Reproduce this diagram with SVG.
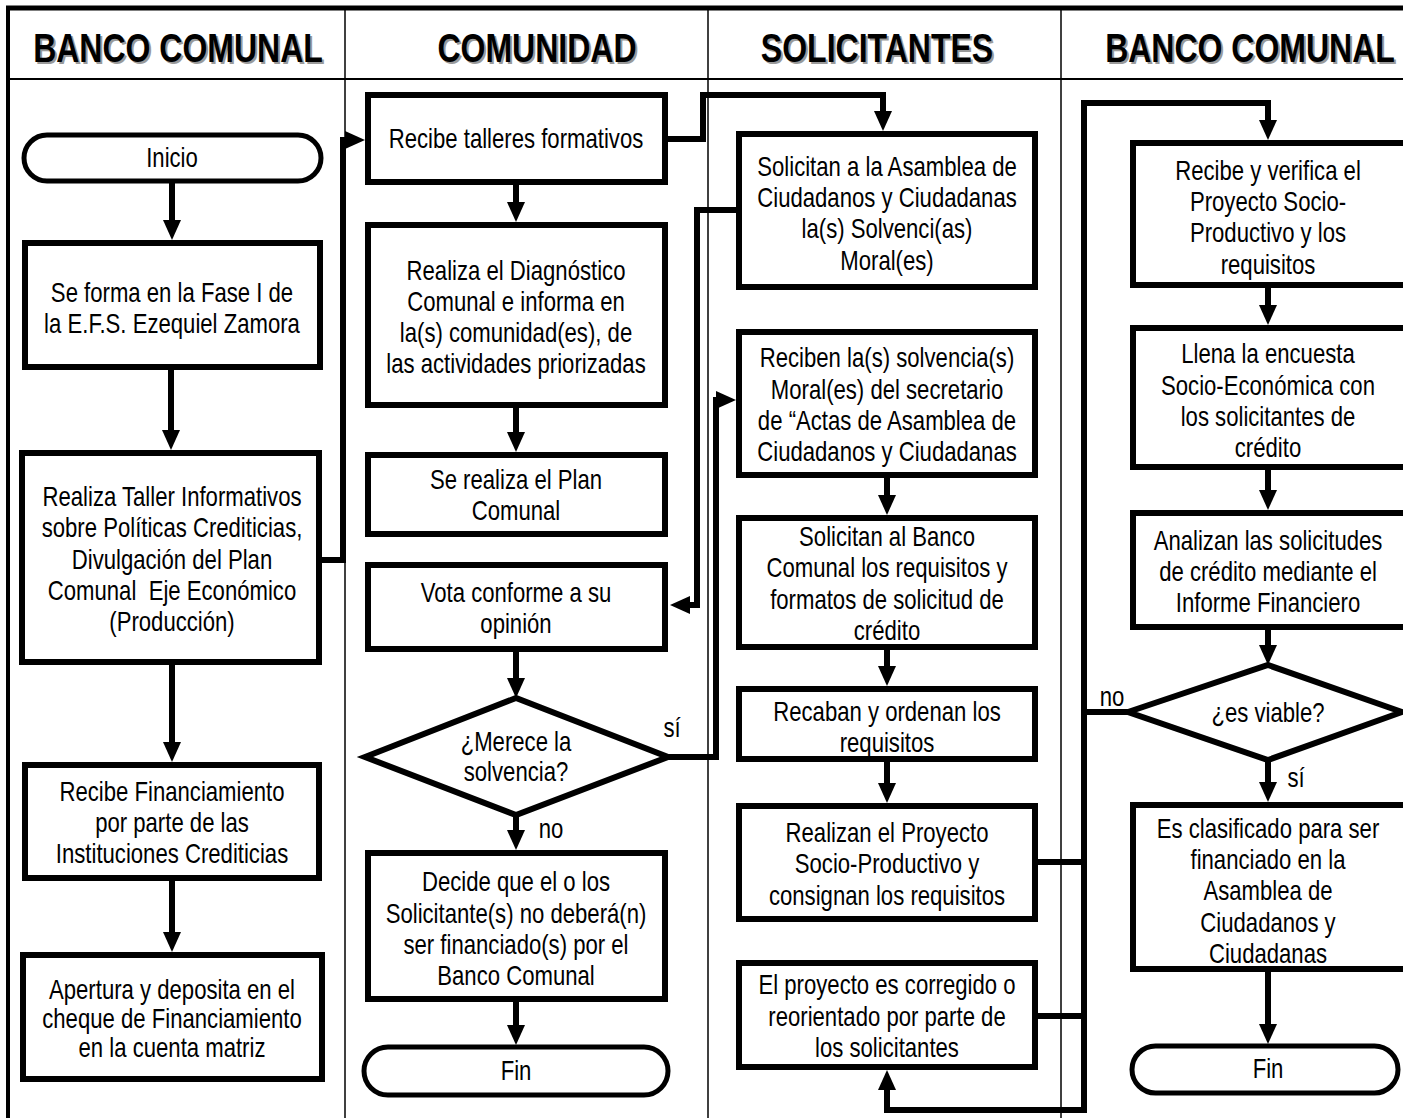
<svg xmlns="http://www.w3.org/2000/svg" width="1403" height="1118" viewBox="0 0 1403 1118">
<style>
.frame{stroke:#000;fill:none}
.box{fill:#fff;stroke:#000;stroke-width:6}
.term{fill:#fff;stroke:#000;stroke-width:5}
.t{font-family:"Liberation Sans",Arial,sans-serif;font-size:27px;text-anchor:middle;fill:#000}
.h{font-family:"Liberation Sans",Arial,sans-serif;font-size:40px;font-weight:bold;text-anchor:middle}
.hs{fill:#9a9a9a}
.hm{fill:#000}
.c{fill:none;stroke:#000;stroke-width:6;stroke-linejoin:miter}
.a{marker-end:url(#ah)}
</style>
<defs>
<marker id="ah" markerUnits="userSpaceOnUse" markerWidth="20" markerHeight="18" refX="6" refY="9" orient="auto"><path d="M0,0 L20,9 L0,18 z" fill="#000"/></marker>
</defs>
<rect width="1403" height="1118" fill="#fff"/>
<g id="lanes">
<line class="frame" x1="6" y1="8" x2="1403" y2="8" stroke-width="5"/>
<line class="frame" x1="8" y1="79" x2="1403" y2="79" stroke-width="2"/>
<line class="frame" x1="8" y1="6" x2="8" y2="1118" stroke-width="4"/>
<line class="frame" x1="345" y1="8" x2="345" y2="1118" stroke-width="1.5"/>
<line class="frame" x1="708" y1="8" x2="708" y2="1118" stroke-width="1.5"/>
<line class="frame" x1="1061" y1="8" x2="1061" y2="1118" stroke-width="1.5"/>
<g class="h hs">
<text transform="matrix(0.8 0 0 1 180 64)" x="0" y="0">BANCO COMUNAL</text>
<text transform="matrix(0.8 0 0 1 539 64)" x="0" y="0">COMUNIDAD</text>
<text transform="matrix(0.8 0 0 1 879 64)" x="0" y="0">SOLICITANTES</text>
<text transform="matrix(0.8 0 0 1 1252 64)" x="0" y="0">BANCO COMUNAL</text>
</g>
<g class="h hm">
<text transform="matrix(0.8 0 0 1 178 62)" x="0" y="0">BANCO COMUNAL</text>
<text transform="matrix(0.8 0 0 1 537 62)" x="0" y="0">COMUNIDAD</text>
<text transform="matrix(0.8 0 0 1 877 62)" x="0" y="0">SOLICITANTES</text>
<text transform="matrix(0.8 0 0 1 1250 62)" x="0" y="0">BANCO COMUNAL</text>
</g>
</g>
<g id="connectors">
<path class="c a" d="M172,183 V226"/>
<path class="c a" d="M171,370 V436"/>
<path class="c a" d="M172,665 V748"/>
<path class="c a" d="M172,881 V938"/>
<path class="c a" d="M322,560 H343 V140 H351"/>
<path class="c a" d="M516,185 V208"/>
<path class="c a" d="M516,408 V438"/>
<path class="c a" d="M516,652 V684"/>
<path class="c a" d="M516,815 V836"/>
<path class="c a" d="M516,1002 V1031"/>
<path class="c a" d="M668,139 H703 V95 H883 V117"/>
<path class="c a" d="M736,210 H697 V605 H684"/>
<path class="c a" d="M668,757 H716 V400 H722"/>
<path class="c a" d="M887,478 V501"/>
<path class="c a" d="M887,650 V672"/>
<path class="c a" d="M887,762 V789"/>
<path class="c a" d="M1038,862 H1084 V103 H1268 V126"/>
<path class="c" d="M1038,1016 H1084"/>
<path class="c a" d="M1128,712 H1084 V1110 H887 V1084"/>
<path class="c a" d="M1268,288 V311"/>
<path class="c a" d="M1268,470 V496"/>
<path class="c a" d="M1268,630 V651"/>
<path class="c a" d="M1268,760 V788"/>
<path class="c a" d="M1268,972 V1030"/>
<text class="t" transform="matrix(0.82 0 0 1 672 737)" x="0" y="0">sí</text>
<text class="t" transform="matrix(0.82 0 0 1 551 838)" x="0" y="0">no</text>
<text class="t" transform="matrix(0.82 0 0 1 1112 706)" x="0" y="0">no</text>
<text class="t" transform="matrix(0.82 0 0 1 1296 787)" x="0" y="0">sí</text>
</g>
<g id="n-inicio"><rect class="term" x="24" y="135" width="297" height="46" rx="23"/><text class="t" transform="matrix(0.82 0 0 1 172 0)" x="0" y="167">Inicio</text></g>
<g id="n-seforma"><rect class="box" x="25" y="243" width="295" height="124"/><text class="t" transform="matrix(0.82 0 0 1 172 0)"><tspan x="0" y="302">Se forma en la Fase I de</tspan><tspan x="0" y="333">la E.F.S. Ezequiel Zamora</tspan></text></g>
<g id="n-taller"><rect class="box" x="22" y="453" width="297" height="209"/><text class="t" xml:space="preserve" transform="matrix(0.82 0 0 1 172 0)"><tspan x="0" y="506">Realiza Taller Informativos</tspan><tspan x="0" y="537">sobre Políticas Crediticias,</tspan><tspan x="0" y="569">Divulgación del Plan</tspan><tspan x="0" y="600">Comunal  Eje Económico</tspan><tspan x="0" y="631">(Producción)</tspan></text></g>
<g id="n-financ"><rect class="box" x="25" y="765" width="294" height="113"/><text class="t" transform="matrix(0.82 0 0 1 172 0)"><tspan x="0" y="801">Recibe Financiamiento</tspan><tspan x="0" y="832">por parte de las</tspan><tspan x="0" y="863">Instituciones Crediticias</tspan></text></g>
<g id="n-apertura"><rect class="box" x="23" y="955" width="299" height="124"/><text class="t" transform="matrix(0.82 0 0 1 172 0)"><tspan x="0" y="999">Apertura y deposita en el</tspan><tspan x="0" y="1028">cheque de Financiamiento</tspan><tspan x="0" y="1057">en la cuenta matriz</tspan></text></g>
<g id="n-talleres"><rect class="box" x="368" y="95" width="297" height="87"/><text class="t" transform="matrix(0.82 0 0 1 516 0)" x="0" y="148">Recibe talleres formativos</text></g>
<g id="n-diag"><rect class="box" x="368" y="225" width="297" height="180"/><text class="t" transform="matrix(0.82 0 0 1 516 0)"><tspan x="0" y="280">Realiza el Diagnóstico</tspan><tspan x="0" y="311">Comunal e informa en</tspan><tspan x="0" y="342">la(s) comunidad(es), de</tspan><tspan x="0" y="373">las actividades priorizadas</tspan></text></g>
<g id="n-plan"><rect class="box" x="368" y="455" width="297" height="79"/><text class="t" transform="matrix(0.82 0 0 1 516 0)"><tspan x="0" y="489">Se realiza el Plan</tspan><tspan x="0" y="520">Comunal</tspan></text></g>
<g id="n-vota"><rect class="box" x="368" y="565" width="297" height="84"/><text class="t" transform="matrix(0.82 0 0 1 516 0)"><tspan x="0" y="602">Vota conforme a su</tspan><tspan x="0" y="633">opinión</tspan></text></g>
<g id="n-merece"><polygon class="box" points="365,757 516,698 668,757 516,815"/><text class="t" transform="matrix(0.82 0 0 1 516 0)"><tspan x="0" y="751">¿Merece la</tspan><tspan x="0" y="781">solvencia?</tspan></text></g>
<g id="n-decide"><rect class="box" x="368" y="853" width="297" height="146"/><text class="t" transform="matrix(0.82 0 0 1 516 0)"><tspan x="0" y="891">Decide que el o los</tspan><tspan x="0" y="923">Solicitante(s) no deberá(n)</tspan><tspan x="0" y="954">ser financiado(s) por el</tspan><tspan x="0" y="985">Banco Comunal</tspan></text></g>
<g id="n-fin1"><rect class="term" x="364" y="1047" width="304" height="48" rx="24"/><text class="t" transform="matrix(0.82 0 0 1 516 0)" x="0" y="1080">Fin</text></g>
<g id="n-solicitan"><rect class="box" x="739" y="134" width="296" height="153"/><text class="t" transform="matrix(0.82 0 0 1 887 0)"><tspan x="0" y="176">Solicitan a la Asamblea de</tspan><tspan x="0" y="207">Ciudadanos y Ciudadanas</tspan><tspan x="0" y="238">la(s) Solvenci(as)</tspan><tspan x="0" y="270">Moral(es)</tspan></text></g>
<g id="n-reciben"><rect class="box" x="739" y="332" width="296" height="143"/><text class="t" transform="matrix(0.82 0 0 1 887 0)"><tspan x="0" y="367">Reciben la(s) solvencia(s)</tspan><tspan x="0" y="399">Moral(es) del secretario</tspan><tspan x="0" y="430">de “Actas de Asamblea de</tspan><tspan x="0" y="461">Ciudadanos y Ciudadanas</tspan></text></g>
<g id="n-solbanco"><rect class="box" x="739" y="518" width="296" height="129"/><text class="t" transform="matrix(0.82 0 0 1 887 0)"><tspan x="0" y="546">Solicitan al Banco</tspan><tspan x="0" y="577">Comunal los requisitos y</tspan><tspan x="0" y="609">formatos de solicitud de</tspan><tspan x="0" y="640">crédito</tspan></text></g>
<g id="n-recaban"><rect class="box" x="739" y="689" width="296" height="70"/><text class="t" transform="matrix(0.82 0 0 1 887 0)"><tspan x="0" y="721">Recaban y ordenan los</tspan><tspan x="0" y="752">requisitos</tspan></text></g>
<g id="n-realizan"><rect class="box" x="739" y="806" width="296" height="113"/><text class="t" transform="matrix(0.82 0 0 1 887 0)"><tspan x="0" y="842">Realizan el Proyecto</tspan><tspan x="0" y="873">Socio-Productivo y</tspan><tspan x="0" y="905">consignan los requisitos</tspan></text></g>
<g id="n-corregido"><rect class="box" x="739" y="963" width="296" height="104"/><text class="t" transform="matrix(0.82 0 0 1 887 0)"><tspan x="0" y="994">El proyecto es corregido o</tspan><tspan x="0" y="1026">reorientado por parte de</tspan><tspan x="0" y="1057">los solicitantes</tspan></text></g>
<g id="n-verifica"><rect class="box" x="1133" y="143" width="275" height="142"/><text class="t" transform="matrix(0.82 0 0 1 1268 0)"><tspan x="0" y="180">Recibe y verifica el</tspan><tspan x="0" y="211">Proyecto Socio-</tspan><tspan x="0" y="242">Productivo y los</tspan><tspan x="0" y="274">requisitos</tspan></text></g>
<g id="n-encuesta"><rect class="box" x="1133" y="328" width="275" height="139"/><text class="t" transform="matrix(0.82 0 0 1 1268 0)"><tspan x="0" y="363">Llena la encuesta</tspan><tspan x="0" y="395">Socio-Económica con</tspan><tspan x="0" y="426">los solicitantes de</tspan><tspan x="0" y="457">crédito</tspan></text></g>
<g id="n-analizan"><rect class="box" x="1133" y="513" width="275" height="114"/><text class="t" transform="matrix(0.82 0 0 1 1268 0)"><tspan x="0" y="550">Analizan las solicitudes</tspan><tspan x="0" y="581">de crédito mediante el</tspan><tspan x="0" y="612">Informe Financiero</tspan></text></g>
<g id="n-viable"><polygon class="box" points="1128,712 1268,665 1402,712 1268,760"/><text class="t" transform="matrix(0.82 0 0 1 1268 0)" x="0" y="722">¿es viable?</text></g>
<g id="n-clasificado"><rect class="box" x="1133" y="805" width="275" height="164"/><text class="t" transform="matrix(0.82 0 0 1 1268 0)"><tspan x="0" y="838">Es clasificado para ser</tspan><tspan x="0" y="869">financiado en la</tspan><tspan x="0" y="900">Asamblea de</tspan><tspan x="0" y="932">Ciudadanos y</tspan><tspan x="0" y="963">Ciudadanas</tspan></text></g>
<g id="n-fin2"><rect class="term" x="1132" y="1046" width="266" height="47" rx="23.5"/><text class="t" transform="matrix(0.82 0 0 1 1268 0)" x="0" y="1078">Fin</text></g>
</svg>
